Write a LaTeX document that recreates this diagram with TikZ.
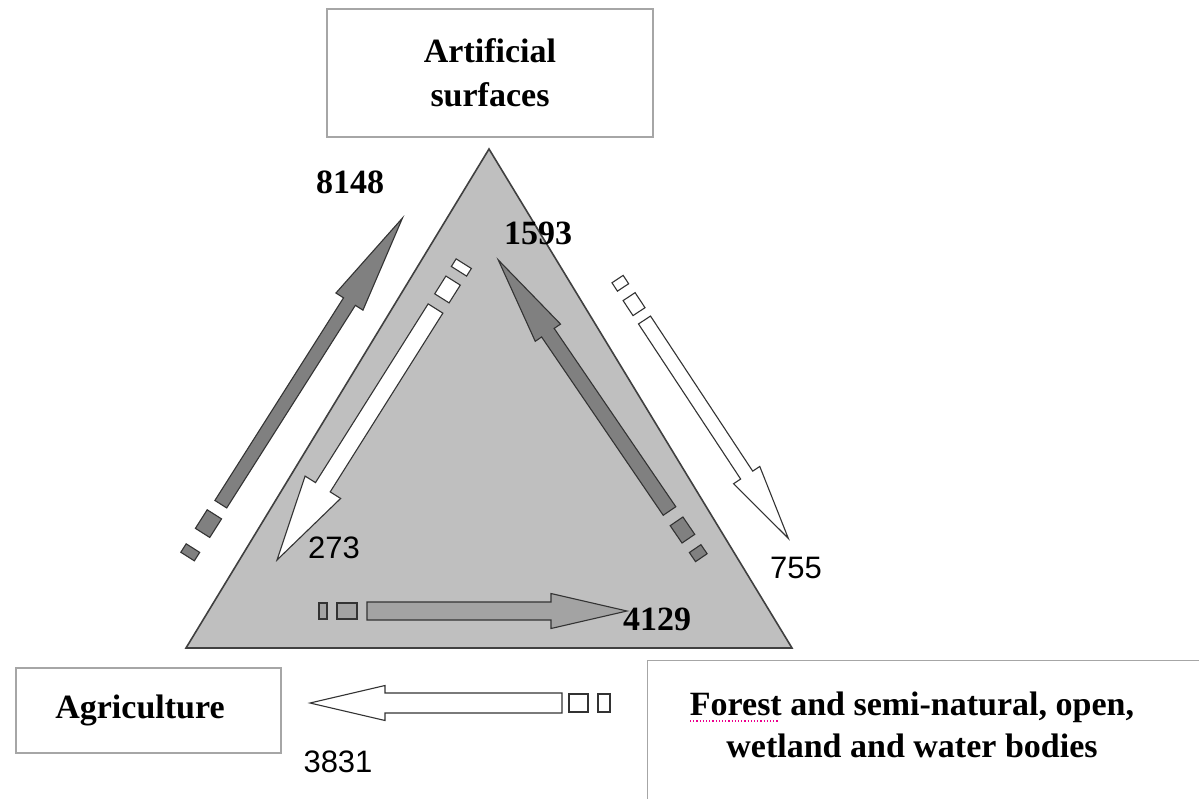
\documentclass[tikz,border=0pt]{standalone}
\usepackage{fontspec}
\setmainfont{Liberation Serif}
\newfontfamily\numsans{Liberation Sans}
\usetikzlibrary{calc}
\newcommand\blkarrow[6]{%
  \coordinate (bah) at ($(#3)!#6!(#2)$);
  \draw[#1] ($(#2)!#4!90:(#3)$) -- ($(bah)!#4!90:(#3)$) -- ($(bah)!#5!90:(#3)$) -- (#3)
    -- ($(bah)!#5!-90:(#3)$) -- ($(bah)!#4!-90:(#3)$) -- ($(#2)!#4!-90:(#3)$) -- cycle;
}
\newcommand\blkseg[6]{%
  \coordinate (bsa) at ($(#2)!#4!180:(#3)$);
  \coordinate (bsb) at ($(#2)!#5!180:(#3)$);
  \draw[#1] ($(bsa)!#6!90:(#3)$) -- ($(bsb)!#6!90:(#3)$) -- ($(bsb)!#6!-90:(#3)$) -- ($(bsa)!#6!-90:(#3)$) -- cycle;
}
\tikzset{
  catbox/.style={draw=black!35, line width=1.2pt, fill=white, inner sep=0pt},
  cattext/.style={font=\fontsize{34}{44}\selectfont\bfseries, align=center, inner sep=0pt},
  boldnum/.style={font=\fontsize{34}{40}\selectfont\bfseries, inner sep=0pt},
  thinnum/.style={font=\numsans\fontsize{31}{36}\selectfont, inner sep=0pt},
  darkarr/.style={fill=black!50, draw=black!80, line width=1.1pt, line join=miter},
  midarr/.style={fill=black!36, draw=black!80, line width=1.1pt, line join=miter},
  whitearr/.style={fill=white, draw=black!80, line width=1.1pt, line join=miter},
  tri/.style={fill=black!25, draw=black!75, line width=1.6pt, line join=miter}
}
\begin{document}
\begin{tikzpicture}[x=1pt,y=-1pt]
\useasboundingbox (0,0) rectangle (1199,798);
\clip (0,0) rectangle (1199,798);
\fill[white] (0,0) rectangle (1199,798);

% category boxes
\node[catbox, minimum width=326, minimum height=128] (art) at (490,73) {};
\node[cattext] (artlbl) at (490,73) {Artificial\\surfaces};
\node[catbox, minimum width=265, minimum height=85] (agri) at (148.5,710.5) {};
\node[cattext] (agrilbl) at (140,710) {Agriculture};
\node[catbox, anchor=north west, minimum width=580, minimum height=160] (forest) at (647,660) {};
\node[cattext, font=\fontsize{34}{42}\selectfont\bfseries] (forestlbl) at (912,725) {Forest and semi-natural, open,\\wetland and water bodies};
\draw[magenta, line width=1.2pt, dotted] (690,721) -- (778,721);

% triangle
\coordinate (tA) at (489,149);
\coordinate (tL) at (186,648);
\coordinate (tR) at (792,648);
\draw[tri] (tA) -- (tR) -- (tL) -- cycle;

% arrow 8148 (Agriculture -> Artificial)
\coordinate (a1s) at (220.8,504.2);
\coordinate (a1t) at (402.5,218);
\blkarrow{darkarr}{a1s}{a1t}{7pt}{16pt}{99pt}
\blkseg{darkarr}{a1s}{a1t}{12pt}{34pt}{8.5pt}
\blkseg{darkarr}{a1s}{a1t}{52pt}{62pt}{8pt}

% arrow 273 (Artificial -> Agriculture)
\coordinate (a2s) at (435.5,308.5);
\coordinate (a2t) at (277,560);
\blkarrow{whitearr}{a2s}{a2t}{8.7pt}{21pt}{86pt}
\blkseg{whitearr}{a2s}{a2t}{12pt}{33pt}{8.5pt}
\blkseg{whitearr}{a2s}{a2t}{44pt}{53pt}{9pt}

% arrow 1593 (Forest -> Artificial)
\coordinate (a3s) at (669.5,511);
\coordinate (a3t) at (498.3,260);
\blkarrow{darkarr}{a3s}{a3t}{7.6pt}{15.3pt}{88pt}
\blkseg{darkarr}{a3s}{a3t}{12.5pt}{33.5pt}{7.7pt}
\blkseg{darkarr}{a3s}{a3t}{45.5pt}{56.5pt}{7pt}

% arrow 755 (Artificial -> Forest)
\coordinate (a4s) at (644.5,320);
\coordinate (a4t) at (788.3,538.3);
\blkarrow{whitearr}{a4s}{a4t}{7.2pt}{15.7pt}{75.7pt}
\blkseg{whitearr}{a4s}{a4t}{10pt}{28pt}{7.2pt}
\blkseg{whitearr}{a4s}{a4t}{39pt}{49pt}{6.7pt}

% arrow 4129 (Agriculture -> Forest)
\coordinate (a5s) at (367,611);
\coordinate (a5t) at (627,611);
\blkarrow{midarr}{a5s}{a5t}{9pt}{17.5pt}{76pt}
\blkseg{midarr}{a5s}{a5t}{10pt}{30pt}{8pt}
\blkseg{midarr}{a5s}{a5t}{40pt}{48pt}{8pt}

% arrow 3831 (Forest -> Agriculture)
\coordinate (a6s) at (562,703);
\coordinate (a6t) at (310,703);
\blkarrow{whitearr}{a6s}{a6t}{10pt}{17.5pt}{75pt}
\blkseg{whitearr}{a6s}{a6t}{7pt}{26pt}{9pt}
\blkseg{whitearr}{a6s}{a6t}{36pt}{48pt}{9pt}

% numbers
\node[boldnum] (n8148) at (350,182) {8148};
\node[boldnum] (n1593) at (538,233) {1593};
\node[boldnum] (n4129) at (657,619) {4129};
\node[thinnum] (n273) at (334,548) {273};
\node[thinnum] (n755) at (796,568) {755};
\node[thinnum] (n3831) at (338,762) {3831};
\end{tikzpicture}
\end{document}
